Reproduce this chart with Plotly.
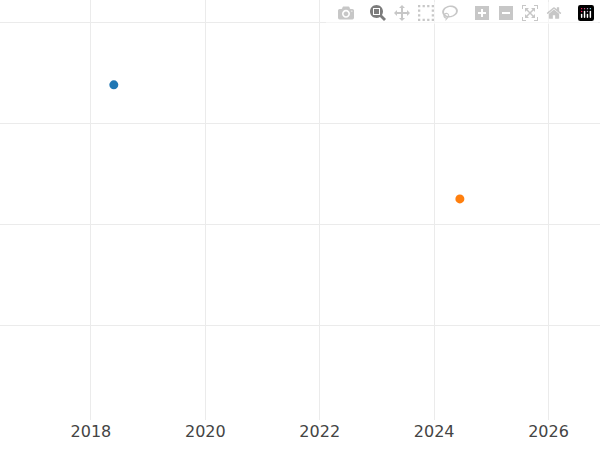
import plotly.graph_objects as go

years = [2018.4, 2024.45]
values = [3.38, 2.25]
colors = ["#1f77b4", "#ff7f0e"]
names = ["A", "B"]

fig = go.Figure()
for x, y, c, n in zip(years, values, colors, names):
    fig.add_trace(go.Scatter(x=[x], y=[y], mode="markers", name=n,
                             marker=dict(color=c, size=9)))
fig.update_layout(
    width=600, height=450, showlegend=False,
    plot_bgcolor="white", paper_bgcolor="white",
    margin=dict(l=0, r=0, t=0, b=30),
    font=dict(family="DejaVu Sans", size=16, color="#444"),
    xaxis=dict(range=[2016.41, 2026.9], dtick=2, tick0=2018, gridcolor="#ebebeb",
               zeroline=False, showline=False, ticks=""),
    yaxis=dict(range=[0.06, 4.22], dtick=1, gridcolor="#ebebeb", zeroline=False,
               showticklabels=False),
)
fig.write_html("out.html", post_script="document.body.style.margin='0';")
